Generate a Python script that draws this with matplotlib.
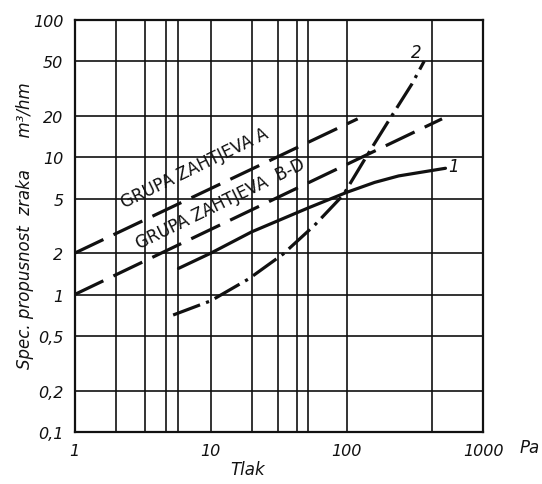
import matplotlib
matplotlib.use('Agg')
import matplotlib.pyplot as plt

# grid and ticks (hand-drawn chart, grid lines)
x_ticks = [1, 10, 100, 1000]
x_tick_labels = ['1', '10', '100', '1000']
x_grid = [2, 3.3, 4.7, 5.8, 20, 31, 43, 52, 420]
y_ticks = [0.1, 0.2, 0.5, 1, 2, 5, 10, 20, 50, 100]
y_tick_labels = ['0,1', '0,2', '0,5', '1', '2', '5', '10', '20', '50', '100']

# group limits (straight lines on log-log)
grupa_a_x = [1, 120]
grupa_a_y = [2, 19]
grupa_bd_x = [1, 500]
grupa_bd_y = [1, 19]

# curve 1 (solid)
c1_x = [5.8, 10, 20, 52, 100, 160, 240, 530]
c1_y = [1.55, 2.0, 2.86, 4.27, 5.55, 6.55, 7.3, 8.3]

# curve 2 (dash-dot)
c2_x = [5.3, 10, 19, 34, 58, 94, 140, 200, 300, 370]
c2_y = [0.71, 0.9, 1.3, 1.97, 3.2, 5.3, 10.2, 18, 34, 50]

ink = '#111111'
fig = plt.figure(figsize=(5.42, 4.85), dpi=100)
ax = fig.add_axes([0.1375, 0.1072, 0.7537, 0.8501])
ax.set_xscale('log')
ax.set_yscale('log')
ax.set_xlim(1, 1000)
ax.set_ylim(0.1, 100)

for v in x_grid + x_ticks[1:-1]:
    ax.axvline(v, color=ink, lw=1.2, zorder=1)
for v in y_ticks[1:-1]:
    ax.axhline(v, color=ink, lw=1.2, zorder=1)

ax.set_xticks(x_ticks)
ax.set_xticklabels(x_tick_labels)
ax.set_yticks(y_ticks)
ax.set_yticklabels(y_tick_labels)
ax.minorticks_off()
ax.tick_params(length=0, pad=8)
for lab in ax.get_xticklabels() + ax.get_yticklabels():
    lab.set_fontstyle('italic')
    lab.set_fontsize(11.5)
    lab.set_color(ink)
for s in ax.spines.values():
    s.set_linewidth(1.6)
    s.set_color(ink)

lw = 2.3
ax.plot(grupa_a_x, grupa_a_y, color=ink, lw=lw, dashes=(10, 3.5), zorder=3)
ax.plot(grupa_bd_x, grupa_bd_y, color=ink, lw=lw, dashes=(10, 3.5), zorder=3)
ax.plot(c1_x, c1_y, color=ink, lw=lw, solid_capstyle='round', zorder=3)
ax.plot(c2_x, c2_y, color=ink, lw=lw, dashes=(9, 2, 1, 2), zorder=3)

ax.text(7.6, 8.4, 'GRUPA ZAHTJEVA A', rotation=26, rotation_mode='anchor',
        ha='center', va='center', fontsize=12, color=ink, zorder=4)
ax.text(11.7, 4.65, 'GRUPA ZAHTJEVA  B-D', rotation=26, rotation_mode='anchor',
        ha='center', va='center', fontsize=12, color=ink, zorder=4)
ax.text(602, 8.6, '1', fontstyle='italic', fontsize=12, ha='center', va='center', color=ink)
ax.text(326, 58, '2', fontstyle='italic', fontsize=12, ha='center', va='center', color=ink)

fig.text(0.046, 0.534, 'Spec. propusnost  zraka      m\u00b3/hm', rotation=90,
         ha='center', va='center', fontstyle='italic', fontsize=12, color=ink)
fig.text(0.456, 0.031, 'Tlak', ha='center', va='center', fontstyle='italic',
         fontsize=12, color=ink)
fig.text(0.978, 0.076, 'Pa', ha='center', va='center', fontstyle='italic',
         fontsize=12, color=ink)

fig.savefig('out.png', dpi=100)
